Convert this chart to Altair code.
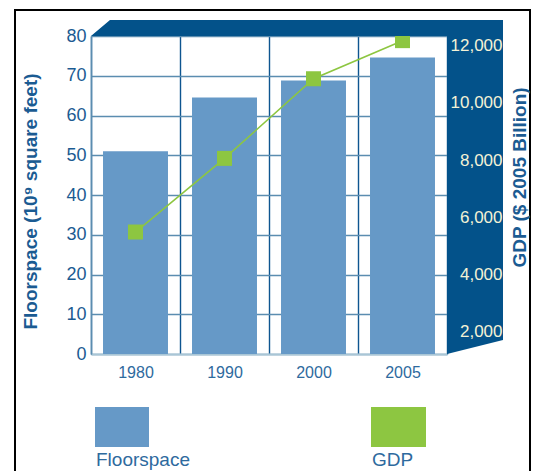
import altair as alt
import pandas as pd

# ---- data ----
years = ["1980", "1990", "2000", "2005"]
floorspace = [51.0, 64.5, 68.8, 74.6]          # 10^9 square feet
gdp = [5490, 8060, 10840, 12170]               # $2005 billion
left_ticks = [0, 10, 20, 30, 40, 50, 60, 70, 80]
right_ticks = [2000, 4000, 6000, 8000, 10000, 12000]

df = pd.DataFrame({"year": years, "floorspace": floorspace, "gdp": gdp})
one = pd.DataFrame({"k": [0]})

# ---- styling ----
FONT = "Liberation Sans"
BAR = "#6699c7"
GREEN = "#8dc641"
PANEL = "#03528a"
YELLOW = "#fdf9d7"
TXT_DARK = "#1b5b92"
TXT_MID = "#2e6a9e"
CREAM = "#f4f2d6"
W, H = 356, 318

x_enc = alt.X(
    "year:N",
    sort=years,
    scale=alt.Scale(paddingInner=0, paddingOuter=0),
    axis=alt.Axis(
        title=None, labelAngle=0, labelFontSize=16, labelColor=TXT_MID,
        labelPadding=10, ticks=False, domain=True, domainColor="#a9c6d6",
        domainWidth=2, grid=True, gridColor="#0e5590", gridWidth=1.4,
        tickBand="extent", zindex=0, labelFont=FONT,
    ),
)

# decorative pseudo-3D frame: top band + right panel as one polygon
cx, cy, r = 206.0, 151.0, 206.0
poly = [(0, 0), (19, -16), (412, -16), (412, 304), (356, 318), (356, 0)]
path = "M" + "L".join(f"{(px - cx) / r:.4f},{(py - cy) / r:.4f}" for px, py in poly) + "Z"

border = alt.Chart(one).mark_rect(fillOpacity=0, stroke="black", strokeWidth=2).encode(
    x=alt.value(-76), x2=alt.value(439), y=alt.value(-26), y2=alt.value(520)
)

panel = alt.Chart(one).mark_point(
    shape=path, size=(2 * r) ** 2, filled=True, color=PANEL, opacity=1, strokeWidth=0
).encode(x=alt.value(cx), y=alt.value(cy))

bars = alt.Chart(df).mark_bar(width=alt.RelativeBandSize(0.73), color=BAR).encode(
    x=x_enc,
    y=alt.Y(
        "floorspace:Q",
        scale=alt.Scale(domain=[0, 80], nice=False, zero=True),
        axis=alt.Axis(
            values=left_ticks, title="Floorspace (10⁹ square feet)",
            titleFontSize=19, titleFontWeight="bold", titleColor=TXT_DARK,
            titleX=-61, titleY=165, titleAngle=270, titleAlign="center",
            titleBaseline="middle", titleFont=FONT,
            labelFontSize=18, labelColor=TXT_DARK, labelPadding=5, labelFont=FONT,
            ticks=False, domain=True, domainColor="#5b8db0", domainWidth=1.5,
            grid=True, gridColor="#5b8db0", gridWidth=1.3, zindex=0,
        ),
    ),
)

gdp_y = alt.Y(
    "gdp:Q",
    scale=alt.Scale(domain=[1232, 12332], nice=False, zero=False),
    axis=alt.Axis(
        orient="right", values=right_ticks, format=",.0f",
        title="GDP ($ 2005 Billion)", titleFontSize=19, titleFontWeight="bold",
        titleColor=TXT_DARK, titleX=72, titleY=141, titleAngle=270,
        titleAlign="center", titleBaseline="middle", titleFont=FONT,
        labelAlign="right", labelPadding=55, labelFontSize=17, labelColor=CREAM,
        labelFont=FONT, ticks=False, domain=False, grid=False, zindex=1,
    ),
)

gdp_line = alt.Chart(df).mark_line(color=GREEN, strokeWidth=1.6).encode(x=x_enc, y=gdp_y)
gdp_pts = alt.Chart(df).mark_square(size=225, color=GREEN, opacity=1).encode(x=x_enc, y=gdp_y)
gdp_layer = alt.layer(gdp_line, gdp_pts)

# legend (manual, matching the reference layout)
leg_rect_fs = alt.Chart(one).mark_rect(color=BAR).encode(
    x=alt.value(4), x2=alt.value(58), y=alt.value(371), y2=alt.value(411)
)
leg_rect_gdp = alt.Chart(one).mark_rect(color=GREEN).encode(
    x=alt.value(280), x2=alt.value(335), y=alt.value(371), y2=alt.value(411)
)
leg_txt_fs = alt.Chart(one).mark_text(
    text="Floorspace", align="left", baseline="alphabetic", fontSize=19, color=TXT_MID, font=FONT
).encode(x=alt.value(5), y=alt.value(430))
leg_txt_gdp = alt.Chart(one).mark_text(
    text="GDP", align="left", baseline="alphabetic", fontSize=19, color=TXT_MID, font=FONT
).encode(x=alt.value(281), y=alt.value(430))

chart = alt.layer(
    border, bars, gdp_layer, panel,
    leg_rect_fs, leg_rect_gdp, leg_txt_fs, leg_txt_gdp,
).resolve_scale(y="independent").properties(
    width=W, height=H,
    padding={"left": 91, "top": 36, "right": 86, "bottom": 117},
    autosize="none",
).configure_view(fill=YELLOW, strokeWidth=0).configure(font=FONT, background="white")

chart.save("out.html", embed_options={"renderer": "svg", "actions": False})
